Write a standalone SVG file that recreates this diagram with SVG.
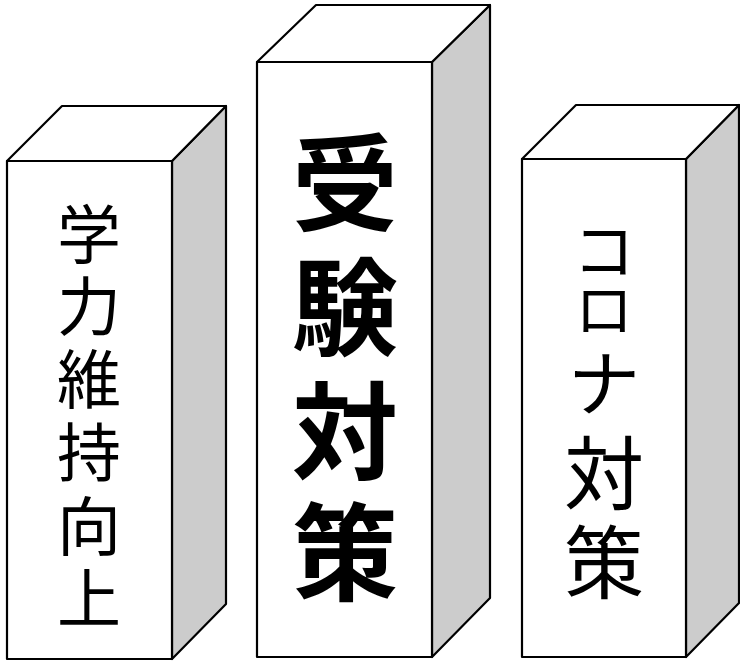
<svg xmlns="http://www.w3.org/2000/svg" width="740" height="662" viewBox="0 0 740 662">
<style>
.face{fill:#ffffff;stroke:#000;stroke-width:2.2;stroke-linejoin:round}
.side{fill:#cccccc;stroke:#000;stroke-width:2.2;stroke-linejoin:round}
.lbl{font-family:"Noto Sans CJK JP","Noto Sans CJK SC",sans-serif;fill:#000;text-anchor:middle;dominant-baseline:central}
</style>
<rect width="740" height="662" fill="#ffffff"/>
<g id="pillar-left">
<polygon class="side" points="172,161 226,106 226,604 172,659"/>
<polygon class="face" points="7,161 62,106 226,106 172,161"/>
<rect class="face" x="7" y="161" width="165" height="498"/>
<text class="lbl" font-size="64" font-weight="400"><tspan x="89" y="230">学</tspan><tspan x="89" y="302">力</tspan><tspan x="89" y="375">維</tspan><tspan x="89" y="448">持</tspan><tspan x="89" y="522">向</tspan><tspan x="89" y="594">上</tspan></text>
</g>
<g id="pillar-center">
<polygon class="side" points="432,62 490,5 490,598 432,657"/>
<polygon class="face" points="257,62 316,5 490,5 432,62"/>
<rect class="face" x="257" y="62" width="175" height="595"/>
<text class="lbl" font-size="106" font-weight="700"><tspan x="345" y="177">受</tspan><tspan x="345" y="301">験</tspan><tspan x="345" y="425">対</tspan><tspan x="345" y="546">策</tspan></text>
</g>
<g id="pillar-right">
<polygon class="side" points="686,159 739,105 739,603 686,657"/>
<polygon class="face" points="522,159 576,105 739,105 686,159"/>
<rect class="face" x="522" y="159" width="164" height="498"/>
<text class="lbl" font-weight="400"><tspan x="604" y="247" font-size="62">コ</tspan><tspan x="604" y="306" font-size="58">ロ</tspan><tspan x="604" y="378" font-size="72">ナ</tspan><tspan x="604" y="468" font-size="80">対</tspan><tspan x="604" y="557" font-size="80">策</tspan></text>
</g>
</svg>
